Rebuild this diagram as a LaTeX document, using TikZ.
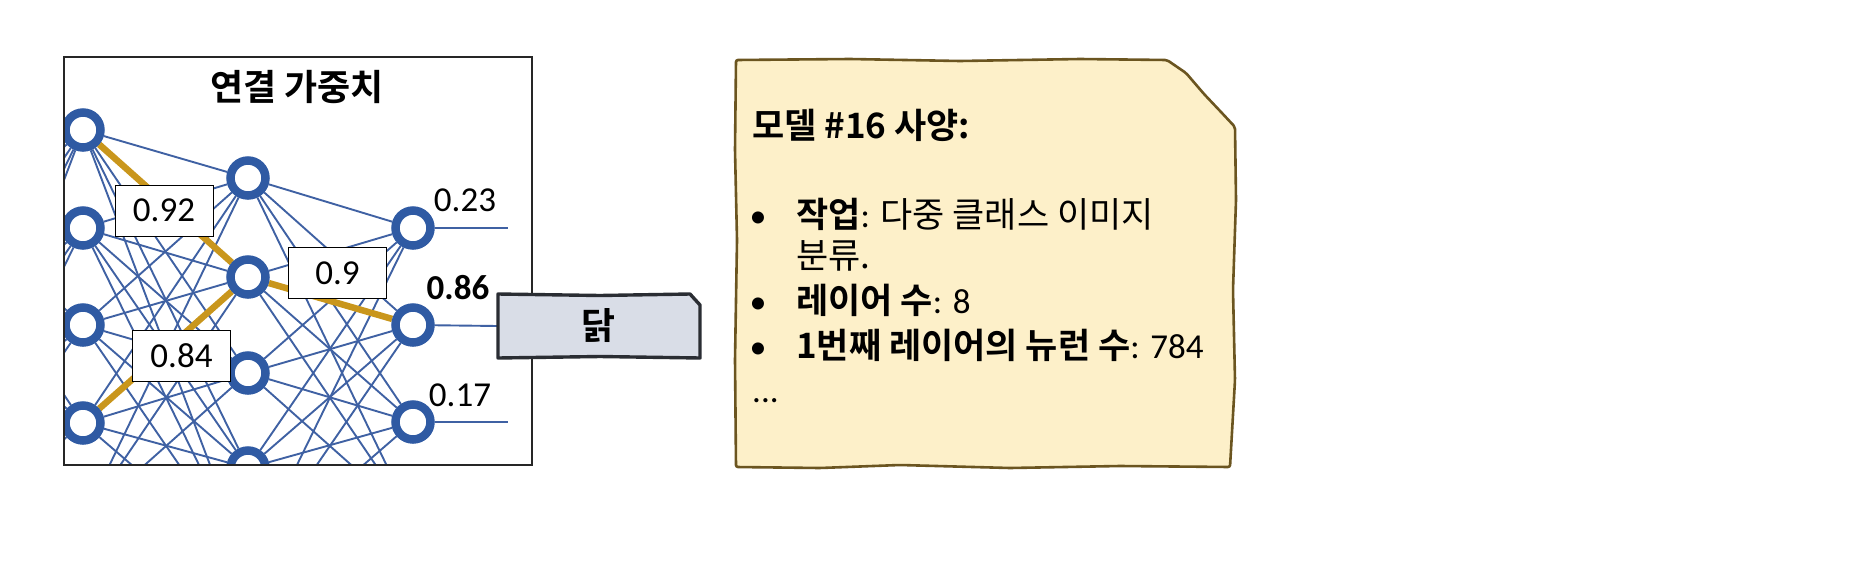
\documentclass[tikz,border=0pt]{standalone}
\usepackage{fontspec}
\setmainfont{Carlito}
\newfontfamily\kr{Noto Sans CJK KR}[BoldFont={Noto Sans CJK KR Bold}]
\usetikzlibrary{calc}
\definecolor{nblue}{HTML}{2F5AA3}
\definecolor{eblue}{HTML}{3F61A3}
\definecolor{gold}{HTML}{C9961C}
\definecolor{notefill}{HTML}{FDF0C9}
\definecolor{noteline}{HTML}{6B5520}
\definecolor{boxfill}{HTML}{D9DDE7}
\definecolor{boxline}{HTML}{2A2D33}
\pgfdeclarelayer{edges}
\pgfsetlayers{edges,main}
\begin{document}
\begin{tikzpicture}[x=1pt,y=-1pt,
 neuron/.style={circle,draw=nblue,line width=8.5pt,fill=white,minimum size=35pt,inner sep=0pt},
 edge/.style={draw=eblue,line width=1.9pt},
 hot/.style={draw=gold,line width=6.5pt},
 wlabel/.style={draw=black,line width=0.8pt,fill=white,minimum width=98pt,minimum height=51pt,inner sep=0pt,font=\fontsize{35}{40}\selectfont},
 olabel/.style={font=\fontsize{35}{40}\selectfont,inner sep=0pt},
 notetext/.style={anchor=base west,inner sep=0pt,font=\fontsize{35}{40}\selectfont},
 bullet/.style={anchor=base,inner sep=0pt,font=\fontsize{34}{40}\selectfont}]
\useasboundingbox (0,0) rectangle (1855,576);

% ---------- network ----------
\begin{scope}
\clip (64,57) rectangle (532,465);
\foreach \i/\y in {1/178,2/277,3/373,4/468,5/565} \node[neuron] (a\i) at (-82,\y) {};
\foreach \i/\y in {1/130,2/228,3/325,4/423,5/520} \node[neuron] (b\i) at (83,\y) {};
\foreach \i/\y in {1/178,2/277,3/373,4/468,5/565} \node[neuron] (c\i) at (248,\y) {};
\foreach \i/\y in {1/228,2/325,3/422,4/520} \node[neuron] (d\i) at (413,\y) {};
\end{scope}
\coordinate (o1) at (508,228);
\coordinate (o3) at (508,422);

% ---------- 닭 box (anchor node) ----------
\node[minimum width=202pt,minimum height=64pt,inner sep=0pt] (dak) at (599,326) {};

\begin{pgfonlayer}{edges}
\begin{scope}
\clip (64,57) rectangle (532,465);
\foreach \i in {1,...,5} \foreach \j in {1,...,5} \draw[edge] (a\i) -- (b\j);
\foreach \i in {1,...,5} \foreach \j in {1,...,5} \draw[edge] (b\i) -- (c\j);
\foreach \i in {1,...,5} \foreach \j in {1,...,4} \draw[edge] (c\i) -- (d\j);
\draw[edge] (d1) -- (o1);
\draw[edge] (d2) -- (dak.west);
\draw[edge] (d3) -- (o3);
\draw[hot] (b1) -- (c2);
\draw[hot] (b4) -- (c2);
\draw[hot] (c2) -- (d2);
\end{scope}
\end{pgfonlayer}

\draw[line width=1.2pt,draw=black!85] (64,57) rectangle (532,465);
\node[font=\kr\bfseries\fontsize{36}{40}\selectfont,inner sep=0pt] (title) at (297,87) {연결 가중치};

\node[wlabel] (w1) at (164,210.5) {0.92};
\node[wlabel] (w2) at (337.5,273) {0.9};
\node[wlabel] (w3) at (181.5,356) {0.84};
\node[olabel] (v1) at (465,200) {0.23};
\node[olabel] (v2) at (458,288) {\bfseries 0.86};
\node[olabel] (v3) at (460,395) {0.17};

% box drawn on top of frame line
\filldraw[fill=boxfill,draw=boxline,line width=3.4pt,line join=round]
  (498,294) -- (600,295.5) -- (690,294) -- (700,305) -- (700,358) -- (600,356.5) -- (498,358) -- cycle;
\node[font=\kr\bfseries\fontsize{37}{40}\selectfont,inner sep=0pt] (daktext) at (dak.center) {닭};

% ---------- note ----------
\filldraw[fill=notefill,draw=noteline,line width=2.6pt,line join=round,rounded corners=2pt]
  (736,60) -- (850,59) -- (960,61) -- (1080,59) -- (1167,60)
  -- (1186,73) -- (1204,94) -- (1221,112) -- (1235,127)
  -- (1236,200) -- (1233,290) -- (1235,380) -- (1230,467)
  -- (1120,466) -- (1010,468) -- (900,465) -- (820,468) -- (736,467)
  -- (735,360) -- (737,240) -- (735,150) -- cycle;

\node[notetext,font=\kr\bfseries\fontsize{35}{40}\selectfont] (nt) at (752,138) {모델 \#16 사양:};
\node[bullet] (p1) at (758,227) {•};
\node[notetext] (l1) at (796,227) {{\kr\bfseries 작업}: {\kr 다중 클래스 이미지}};
\node[notetext] (l2) at (796,268) {{\kr 분류.}};
\node[bullet] (p3) at (758,313) {•};
\node[notetext] (l3) at (796,313) {{\kr\bfseries 레이어 수}: 8};
\node[bullet] (p4) at (758,358) {•};
\node[notetext] (l4) at (796,358) {{\kr\bfseries 1번째 레이어의 뉴런 수}: 784};
\node[notetext] (l5) at (752,402) {...};
\end{tikzpicture}
\end{document}
